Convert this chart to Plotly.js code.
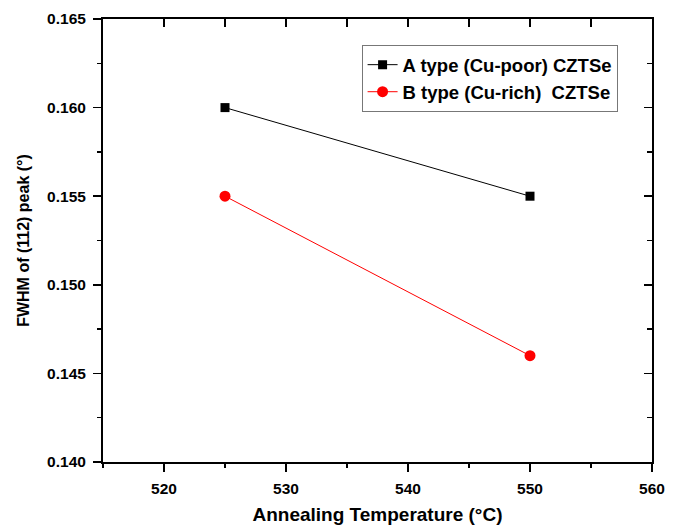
<!DOCTYPE html>
<html><head><meta charset="utf-8">
<script src="https://cdn.plot.ly/plotly-3.0.1.min.js"></script>
<style>html,body{margin:0;padding:0;background:#fff}#c{width:677px;height:525px}</style>
</head><body><div id="c"></div>
<script>
const temps = [525, 550];
const fwhmA = [0.160, 0.155];
const fwhmB = [0.155, 0.146];
const nameA = 'A type (Cu-poor) CZTSe';
const nameB = 'B type (Cu-rich)  CZTSe';
const xTitle = 'Annealing Temperature (°C)';
const yTitle = 'FWHM of (112) peak (°)';

const F = 'Liberation Sans, Arial, sans-serif';
const traces = [
  {x: temps, y: fwhmA, name: nameA, legendgroup: 'a', mode: 'lines+markers', type: 'scatter',
   line: {color: '#000', width: 1}, marker: {symbol: 'square', size: 9, color: '#000'}},
  {x: temps, y: fwhmB, name: nameB, legendgroup: 'b', mode: 'lines+markers', type: 'scatter',
   line: {color: '#ff0000', width: 1}, marker: {symbol: 'circle', size: 11, color: '#ff0000'}},
  {x: [], y: [], xaxis: 'x2', yaxis: 'y2', showlegend: false, type: 'scatter'}
];
const tf = {family: F, size: 15.5, color: '#000', weight: 700};
const axCommon = {showgrid: false, zeroline: false, linecolor: '#000', linewidth: 2,
  tickcolor: '#000', tickwidth: 1.5, ticklen: 8, tickfont: tf};
const layout = {
  width: 677, height: 525,
  margin: {l: 103, r: 25, t: 19, b: 63},
  paper_bgcolor: '#fff', plot_bgcolor: '#fff',
  font: {family: F, color: '#000'},
  xaxis: Object.assign({}, axCommon, {range: [515, 560], dtick: 10, tick0: 520, ticks: 'outside',
    ticklabelstandoff: 3,
    minor: {dtick: 5, tick0: 520, ticks: 'outside', ticklen: 4, tickcolor: '#000', tickwidth: 1.5},
    title: {text: xTitle, font: {family: F, size: 19, weight: 700, color: '#000'}, standoff: 16}}),
  yaxis: Object.assign({}, axCommon, {range: [0.140, 0.165], dtick: 0.005, tickformat: '.3f', ticks: 'outside',
    ticklabelstandoff: 4,
    minor: {dtick: 0.0025, ticks: 'outside', ticklen: 4, tickcolor: '#000', tickwidth: 1.5},
    title: {text: yTitle, font: {family: F, size: 16, weight: 700, color: '#000'}, standoff: 14}}),
  xaxis2: Object.assign({}, axCommon, {overlaying: 'x', side: 'top', range: [515, 560], dtick: 5, tick0: 520,
    ticks: 'inside', showticklabels: false, anchor: 'y2'}),
  yaxis2: Object.assign({}, axCommon, {overlaying: 'y', side: 'right', range: [0.140, 0.165], dtick: 0.005,
    ticks: 'inside', showticklabels: false, anchor: 'x2',
    minor: {dtick: 0.0025, ticks: 'inside', ticklen: 5, tickcolor: '#000', tickwidth: 1.5}}),
  legend: {x: 0.471, y: 0.941, xanchor: 'left', yanchor: 'top', bgcolor: '#fff',
    bordercolor: '#777', borderwidth: 1, font: {family: F, size: 18.5, weight: 700, color: '#000'},
    tracegroupgap: 0}
};
Plotly.newPlot('c', traces, layout, {displayModeBar: false, staticPlot: true});
</script></body></html>
